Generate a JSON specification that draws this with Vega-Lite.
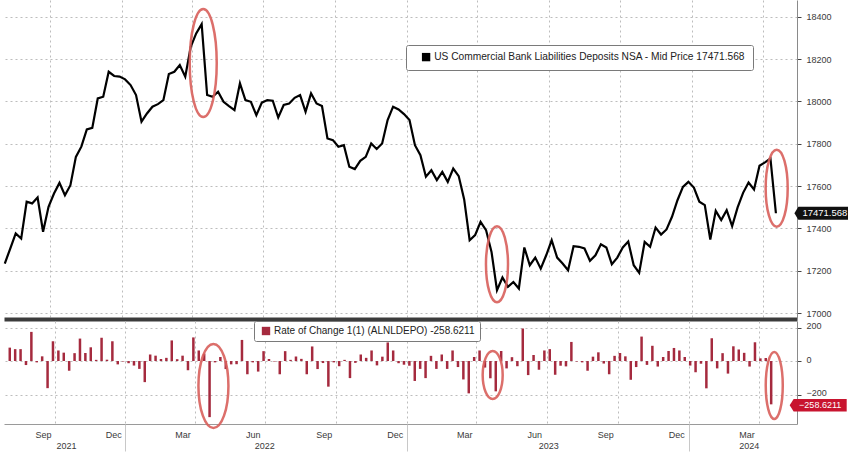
{
  "$schema": "https://vega.github.io/schema/vega-lite/v6.json",
  "padding": 0,
  "background": "#ffffff",
  "spacing": 1,
  "config": {
    "font": "Liberation Sans",
    "view": {"stroke": null},
    "axis": {"labelFont": "Liberation Sans", "labelColor": "#3a3a3a", "labelFontSize": 9, "gridColor": "#bdbdbd", "gridDash": [2, 3], "gridWidth": 1, "title": null},
    "legend": {"labelFont": "Liberation Sans", "labelLimit": 0}
  },
  "resolve": {"scale": {"color": "independent"}},
  "datasets": {
    "weekly": [
      {"d": "2021-08-04", "v": 17234, "c": 80},
      {"d": "2021-08-11", "v": 17305, "c": 71},
      {"d": "2021-08-18", "v": 17376, "c": 71},
      {"d": "2021-08-25", "v": 17352, "c": -24},
      {"d": "2021-09-01", "v": 17526, "c": 174},
      {"d": "2021-09-08", "v": 17518, "c": -8},
      {"d": "2021-09-15", "v": 17546, "c": 28},
      {"d": "2021-09-22", "v": 17384, "c": -162},
      {"d": "2021-09-29", "v": 17502, "c": 118},
      {"d": "2021-10-06", "v": 17565, "c": 63},
      {"d": "2021-10-13", "v": 17615, "c": 50},
      {"d": "2021-10-20", "v": 17557, "c": -58},
      {"d": "2021-10-27", "v": 17604, "c": 47},
      {"d": "2021-11-03", "v": 17738, "c": 134},
      {"d": "2021-11-10", "v": 17786, "c": 48},
      {"d": "2021-11-17", "v": 17868, "c": 82},
      {"d": "2021-11-24", "v": 17875, "c": 7},
      {"d": "2021-12-01", "v": 18014, "c": 139},
      {"d": "2021-12-08", "v": 18022, "c": 8},
      {"d": "2021-12-15", "v": 18140, "c": 118},
      {"d": "2021-12-22", "v": 18120, "c": -20},
      {"d": "2021-12-29", "v": 18117, "c": -3},
      {"d": "2022-01-05", "v": 18104, "c": -13},
      {"d": "2022-01-12", "v": 18077, "c": -27},
      {"d": "2022-01-19", "v": 18030, "c": -47},
      {"d": "2022-01-26", "v": 17904, "c": -126},
      {"d": "2022-02-02", "v": 17943, "c": 39},
      {"d": "2022-02-09", "v": 17975, "c": 32},
      {"d": "2022-02-16", "v": 17987, "c": 12},
      {"d": "2022-02-23", "v": 18006, "c": 19},
      {"d": "2022-03-02", "v": 18129, "c": 123},
      {"d": "2022-03-09", "v": 18140, "c": 11},
      {"d": "2022-03-16", "v": 18172, "c": 32},
      {"d": "2022-03-23", "v": 18117, "c": -55},
      {"d": "2022-03-30", "v": 18258, "c": 141},
      {"d": "2022-04-06", "v": 18321, "c": 63},
      {"d": "2022-04-13", "v": 18365, "c": 44},
      {"d": "2022-04-20", "v": 18030, "c": -335},
      {"d": "2022-04-27", "v": 18022, "c": -8},
      {"d": "2022-05-04", "v": 18046, "c": 24},
      {"d": "2022-05-11", "v": 17998, "c": -48},
      {"d": "2022-05-18", "v": 17978, "c": -20},
      {"d": "2022-05-25", "v": 17959, "c": -19},
      {"d": "2022-06-01", "v": 18085, "c": 126},
      {"d": "2022-06-08", "v": 18006, "c": -79},
      {"d": "2022-06-15", "v": 17998, "c": -8},
      {"d": "2022-06-22", "v": 17935, "c": -63},
      {"d": "2022-06-29", "v": 17994, "c": 59},
      {"d": "2022-07-06", "v": 18006, "c": 12},
      {"d": "2022-07-13", "v": 18003, "c": -3},
      {"d": "2022-07-20", "v": 17924, "c": -79},
      {"d": "2022-07-27", "v": 17983, "c": 59},
      {"d": "2022-08-03", "v": 17990, "c": 7},
      {"d": "2022-08-10", "v": 18017, "c": 27},
      {"d": "2022-08-17", "v": 18030, "c": 13},
      {"d": "2022-08-24", "v": 17951, "c": -79},
      {"d": "2022-08-31", "v": 18038, "c": 87},
      {"d": "2022-09-07", "v": 17990, "c": -48},
      {"d": "2022-09-14", "v": 17978, "c": -12},
      {"d": "2022-09-21", "v": 17825, "c": -153},
      {"d": "2022-09-28", "v": 17817, "c": -8},
      {"d": "2022-10-05", "v": 17786, "c": -31},
      {"d": "2022-10-12", "v": 17793, "c": 7},
      {"d": "2022-10-19", "v": 17691, "c": -102},
      {"d": "2022-10-26", "v": 17680, "c": -11},
      {"d": "2022-11-02", "v": 17719, "c": 39},
      {"d": "2022-11-09", "v": 17738, "c": 19},
      {"d": "2022-11-16", "v": 17801, "c": 63},
      {"d": "2022-11-23", "v": 17775, "c": -26},
      {"d": "2022-11-30", "v": 17801, "c": 26},
      {"d": "2022-12-07", "v": 17912, "c": 111},
      {"d": "2022-12-14", "v": 17975, "c": 63},
      {"d": "2022-12-21", "v": 17962, "c": -13},
      {"d": "2022-12-28", "v": 17940, "c": -22},
      {"d": "2023-01-04", "v": 17912, "c": -28},
      {"d": "2023-01-11", "v": 17793, "c": -119},
      {"d": "2023-01-18", "v": 17746, "c": -47},
      {"d": "2023-01-25", "v": 17644, "c": -102},
      {"d": "2023-02-01", "v": 17675, "c": 31},
      {"d": "2023-02-08", "v": 17628, "c": -47},
      {"d": "2023-02-15", "v": 17667, "c": 39},
      {"d": "2023-02-22", "v": 17620, "c": -47},
      {"d": "2023-03-01", "v": 17683, "c": 63},
      {"d": "2023-03-08", "v": 17647, "c": -36},
      {"d": "2023-03-15", "v": 17537, "c": -110},
      {"d": "2023-03-22", "v": 17344, "c": -193},
      {"d": "2023-03-29", "v": 17368, "c": 24},
      {"d": "2023-04-05", "v": 17431, "c": 63},
      {"d": "2023-04-12", "v": 17392, "c": -39},
      {"d": "2023-04-19", "v": 17289, "c": -103},
      {"d": "2023-04-26", "v": 17108, "c": -181},
      {"d": "2023-05-03", "v": 17168, "c": 60},
      {"d": "2023-05-10", "v": 17124, "c": -44},
      {"d": "2023-05-17", "v": 17147, "c": 23},
      {"d": "2023-05-24", "v": 17116, "c": -31},
      {"d": "2023-05-31", "v": 17310, "c": 194},
      {"d": "2023-06-07", "v": 17226, "c": -84},
      {"d": "2023-06-14", "v": 17262, "c": 36},
      {"d": "2023-06-21", "v": 17210, "c": -52},
      {"d": "2023-06-28", "v": 17273, "c": 63},
      {"d": "2023-07-05", "v": 17344, "c": 71},
      {"d": "2023-07-12", "v": 17262, "c": -82},
      {"d": "2023-07-19", "v": 17234, "c": -28},
      {"d": "2023-07-26", "v": 17202, "c": -32},
      {"d": "2023-08-02", "v": 17316, "c": 114},
      {"d": "2023-08-09", "v": 17313, "c": -3},
      {"d": "2023-08-16", "v": 17305, "c": -8},
      {"d": "2023-08-23", "v": 17247, "c": -58},
      {"d": "2023-08-30", "v": 17273, "c": 26},
      {"d": "2023-09-06", "v": 17325, "c": 52},
      {"d": "2023-09-13", "v": 17310, "c": -15},
      {"d": "2023-09-20", "v": 17231, "c": -79},
      {"d": "2023-09-27", "v": 17262, "c": 31},
      {"d": "2023-10-04", "v": 17310, "c": 48},
      {"d": "2023-10-11", "v": 17338, "c": 28},
      {"d": "2023-10-18", "v": 17226, "c": -112},
      {"d": "2023-10-25", "v": 17190, "c": -36},
      {"d": "2023-11-01", "v": 17336, "c": 146},
      {"d": "2023-11-08", "v": 17313, "c": -23},
      {"d": "2023-11-15", "v": 17404, "c": 91},
      {"d": "2023-11-22", "v": 17371, "c": -33},
      {"d": "2023-11-29", "v": 17395, "c": 24},
      {"d": "2023-12-06", "v": 17455, "c": 60},
      {"d": "2023-12-13", "v": 17533, "c": 78},
      {"d": "2023-12-20", "v": 17596, "c": 63},
      {"d": "2023-12-27", "v": 17620, "c": 24},
      {"d": "2024-01-03", "v": 17593, "c": -27},
      {"d": "2024-01-10", "v": 17526, "c": -67},
      {"d": "2024-01-17", "v": 17510, "c": -16},
      {"d": "2024-01-24", "v": 17347, "c": -163},
      {"d": "2024-01-31", "v": 17483, "c": 136},
      {"d": "2024-02-07", "v": 17439, "c": -44},
      {"d": "2024-02-14", "v": 17486, "c": 47},
      {"d": "2024-02-21", "v": 17411, "c": -75},
      {"d": "2024-02-28", "v": 17499, "c": 88},
      {"d": "2024-03-06", "v": 17568, "c": 69},
      {"d": "2024-03-13", "v": 17617, "c": 49},
      {"d": "2024-03-20", "v": 17584, "c": -33},
      {"d": "2024-03-27", "v": 17696, "c": 112},
      {"d": "2024-04-03", "v": 17712, "c": 16},
      {"d": "2024-04-10", "v": 17730.189, "c": 18.189},
      {"d": "2024-04-17", "v": 17471.568, "c": -258.6211}
    ]
  },
  "vconcat": [
    {
      "width": 793,
      "height": 319,
      "resolve": {"axis": {"x": "independent", "y": "independent"}},
      "layer": [
        {
          "data": {"name": "weekly"},
          "mark": {"type": "line", "strokeWidth": 2.2, "strokeJoin": "miter"},
          "encoding": {
            "x": {
              "field": "d", "type": "temporal",
              "scale": {"domain": [{"year": 2021, "month": 8, "date": 3}, {"year": 2024, "month": 5, "date": 14}]},
              "axis": {
                "orient": "bottom",
                "values": [
                  {"year": 2021, "month": 10, "date": 1}, {"year": 2022, "month": 1, "date": 1}, {"year": 2022, "month": 4, "date": 1},
                  {"year": 2022, "month": 7, "date": 1}, {"year": 2022, "month": 10, "date": 1}, {"year": 2023, "month": 1, "date": 1},
                  {"year": 2023, "month": 4, "date": 1}, {"year": 2023, "month": 7, "date": 1}, {"year": 2023, "month": 10, "date": 1},
                  {"year": 2024, "month": 1, "date": 1}, {"year": 2024, "month": 4, "date": 1}
                ],
                "grid": true, "labels": false, "ticks": false, "domain": true,
                "domainColor": "#3c3c3c", "domainWidth": 4, "title": null
              }
            },
            "y": {
              "field": "v", "type": "quantitative",
              "scale": {"domain": [16972, 18479], "nice": false, "zero": false},
              "axis": {
                "orient": "right", "values": [17000, 17200, 17400, 17600, 17800, 18000, 18200, 18400],
                "format": "d", "grid": true, "domainColor": "#8a8a8a", "tickColor": "#444", "tickSize": 4,
                "labelPadding": 5, "title": null
              }
            },
            "color": {
              "datum": "US Commercial Bank Liabilities Deposits NSA - Mid Price 17471.568",
              "scale": {"range": ["#000000"]},
              "legend": {
                "orient": "none", "legendX": 402, "legendY": 45, "title": null,
                "strokeColor": "#7a7a7a", "fillColor": "#ffffff", "padding": 7, "cornerRadius": 2,
                "labelFontSize": 10.2, "labelColor": "#222222", "symbolType": "square", "symbolSize": 70,
                "symbolOffset": 8, "labelOffset": 3,
                "encode": {"symbols": {"update": {"fill": {"value": "#000000"}, "stroke": {"value": "#000000"}, "strokeWidth": {"value": 0}}}}
              }
            }
          }
        },
        {
          "data": {"values": [{"d": "2022-04-15", "v": 18181}]},
          "mark": {"type": "point", "shape": "M0,-1A0.25,1,0,1,1,0,1A0.25,1,0,1,1,0,-1Z", "size": 11664, "filled": false, "stroke": "#d9605c", "strokeWidth": 2.5, "opacity": 0.9},
          "encoding": {"x": {"field": "d", "type": "temporal", "axis": null}, "y": {"field": "v", "type": "quantitative", "axis": null}}
        },
        {
          "data": {"values": [{"d": "2023-04-26", "v": 17231}]},
          "mark": {"type": "point", "shape": "M0,-1A0.29,1,0,1,1,0,1A0.29,1,0,1,1,0,-1Z", "size": 5776, "filled": false, "stroke": "#d9605c", "strokeWidth": 2.5, "opacity": 0.9},
          "encoding": {"x": {"field": "d", "type": "temporal", "axis": null}, "y": {"field": "v", "type": "quantitative", "axis": null}}
        },
        {
          "data": {"values": [{"d": "2024-04-18", "v": 17590}]},
          "mark": {"type": "point", "shape": "M0,-1A0.286,1,0,1,1,0,1A0.286,1,0,1,1,0,-1Z", "size": 5929, "filled": false, "stroke": "#d9605c", "strokeWidth": 2.5, "opacity": 0.9},
          "encoding": {"x": {"field": "d", "type": "temporal", "axis": null}, "y": {"field": "v", "type": "quantitative", "axis": null}}
        },
        {
          "data": {"values": [{"d": "2024-04-17", "v": 17471.568}]},
          "mark": {"type": "point", "shape": "M-1,0L-0.86,-0.228L1,-0.228L1,0.228L-0.86,0.228Z", "size": 3249, "filled": true, "fill": "#111111", "strokeWidth": 0, "opacity": 1, "xOffset": 47},
          "encoding": {"x": {"field": "d", "type": "temporal", "axis": null}, "y": {"field": "v", "type": "quantitative", "axis": null}}
        },
        {
          "data": {"values": [{"d": "2024-04-17", "v": 17471.568}]},
          "mark": {"type": "text", "color": "#ffffff", "fontSize": 9.5, "dx": 49, "align": "center", "baseline": "middle"},
          "encoding": {
            "x": {"field": "d", "type": "temporal", "axis": null},
            "y": {"field": "v", "type": "quantitative", "axis": null},
            "text": {"field": "v", "type": "quantitative", "format": ".3f"}
          }
        }
      ]
    },
    {
      "width": 793,
      "height": 103,
      "resolve": {"axis": {"x": "independent", "y": "independent"}},
      "layer": [
        {
          "data": {"name": "weekly"},
          "mark": {"type": "bar", "size": 2.5, "color": "#a52a3e"},
          "encoding": {
            "x": {
              "field": "d", "type": "temporal",
              "scale": {"domain": [{"year": 2021, "month": 8, "date": 3}, {"year": 2024, "month": 5, "date": 14}]},
              "axis": {
                "orient": "bottom",
                "values": [
                  {"year": 2021, "month": 9, "date": 16}, {"year": 2021, "month": 12, "date": 16}, {"year": 2022, "month": 3, "date": 16},
                  {"year": 2022, "month": 6, "date": 15}, {"year": 2022, "month": 9, "date": 15}, {"year": 2022, "month": 12, "date": 16},
                  {"year": 2023, "month": 3, "date": 16}, {"year": 2023, "month": 6, "date": 15}, {"year": 2023, "month": 9, "date": 15},
                  {"year": 2023, "month": 12, "date": 16}, {"year": 2024, "month": 3, "date": 16}
                ],
                "format": "%b", "grid": false, "ticks": false, "domain": true, "domainColor": "#9a9a9a",
                "labelPadding": 6, "title": null
              }
            },
            "y": {
              "field": "c", "type": "quantitative",
              "scale": {"domain": [-376, 239], "nice": false, "zero": false},
              "axis": {
                "orient": "right", "values": [-200, 0, 200], "format": "d", "grid": true,
                "domainColor": "#8a8a8a", "tickColor": "#444", "tickSize": 4, "labelPadding": 5, "labelBaseline": "bottom", "labelOffset": 3, "title": null
              }
            },
            "color": {
              "datum": "Rate of Change 1(1) (ALNLDEPO) -258.6211",
              "scale": {"range": ["#a52a3e"]},
              "legend": {
                "orient": "none", "legendX": 250, "legendY": 0, "title": null,
                "strokeColor": "#7a7a7a", "fillColor": "#ffffff", "padding": 5, "cornerRadius": 2,
                "labelFontSize": 10, "labelColor": "#222222", "symbolType": "square", "symbolSize": 70,
                "symbolOffset": 2, "labelOffset": 3
              }
            }
          }
        },
        {
          "data": {"values": [{"d": "2022-04-25", "c": -149}]},
          "mark": {"type": "point", "shape": "M0,-1A0.357,1,0,1,1,0,1A0.357,1,0,1,1,0,-1Z", "size": 7056, "filled": false, "stroke": "#d9605c", "strokeWidth": 2.5, "opacity": 0.9},
          "encoding": {
            "x": {
              "field": "d", "type": "temporal",
              "axis": {
                "orient": "bottom",
                "values": [
                  {"year": 2021, "month": 10, "date": 1}, {"year": 2022, "month": 1, "date": 1}, {"year": 2022, "month": 4, "date": 1},
                  {"year": 2022, "month": 7, "date": 1}, {"year": 2022, "month": 10, "date": 1}, {"year": 2023, "month": 1, "date": 1},
                  {"year": 2023, "month": 4, "date": 1}, {"year": 2023, "month": 7, "date": 1}, {"year": 2023, "month": 10, "date": 1},
                  {"year": 2024, "month": 1, "date": 1}, {"year": 2024, "month": 4, "date": 1}
                ],
                "grid": true, "labels": false, "ticks": false, "domain": false, "title": null
              }
            },
            "y": {"field": "c", "type": "quantitative", "axis": null}
          }
        },
        {
          "data": {"values": [{"d": "2023-04-22", "c": -84}]},
          "mark": {"type": "point", "shape": "M0,-1A0.417,1,0,1,1,0,1A0.417,1,0,1,1,0,-1Z", "size": 2304, "filled": false, "stroke": "#d9605c", "strokeWidth": 2.5, "opacity": 0.9},
          "encoding": {
            "x": {
              "field": "d", "type": "temporal",
              "axis": {
                "orient": "bottom",
                "values": [{"year": 2022, "month": 1, "date": 1}, {"year": 2023, "month": 1, "date": 1}, {"year": 2024, "month": 1, "date": 1}],
                "grid": false, "labels": false, "ticks": true, "tickSize": 27, "tickColor": "#c8c8c8", "domain": false, "title": null
              }
            },
            "y": {"field": "c", "type": "quantitative", "axis": null}
          }
        },
        {
          "data": {"values": [{"d": "2024-04-21", "c": -146}]},
          "mark": {"type": "point", "shape": "M0,-1A0.254,1,0,1,1,0,1A0.254,1,0,1,1,0,-1Z", "size": 4489, "filled": false, "stroke": "#d9605c", "strokeWidth": 2.5, "opacity": 0.9},
          "encoding": {
            "x": {
              "field": "d", "type": "temporal",
              "axis": {
                "orient": "bottom",
                "values": [{"year": 2021, "month": 10, "date": 16}, {"year": 2022, "month": 6, "date": 30}, {"year": 2023, "month": 7, "date": 3}, {"year": 2024, "month": 3, "date": 19}],
                "format": "%Y", "grid": false, "ticks": false, "domain": false, "labelPadding": 17, "title": null
              }
            },
            "y": {"field": "c", "type": "quantitative", "axis": null}
          }
        },
        {
          "data": {"values": [{"d": "2024-04-17", "c": -258.6211}]},
          "mark": {"type": "point", "shape": "M-1,0L-0.86,-0.22L1,-0.22L1,0.22L-0.86,0.22Z", "size": 3249, "filled": true, "fill": "#c8142f", "strokeWidth": 0, "opacity": 1, "xOffset": 47, "yOffset": 1},
          "encoding": {"x": {"field": "d", "type": "temporal", "axis": null}, "y": {"field": "c", "type": "quantitative", "axis": null}}
        },
        {
          "data": {"values": [{"d": "2024-04-17", "c": -258.6211}]},
          "mark": {"type": "text", "color": "#ffffff", "fontSize": 9, "dx": 49, "dy": 1, "align": "center", "baseline": "middle"},
          "encoding": {
            "x": {"field": "d", "type": "temporal", "axis": null},
            "y": {"field": "c", "type": "quantitative", "axis": null},
            "text": {"field": "c", "type": "quantitative", "format": ".4f"}
          }
        }
      ]
    }
  ]
}
